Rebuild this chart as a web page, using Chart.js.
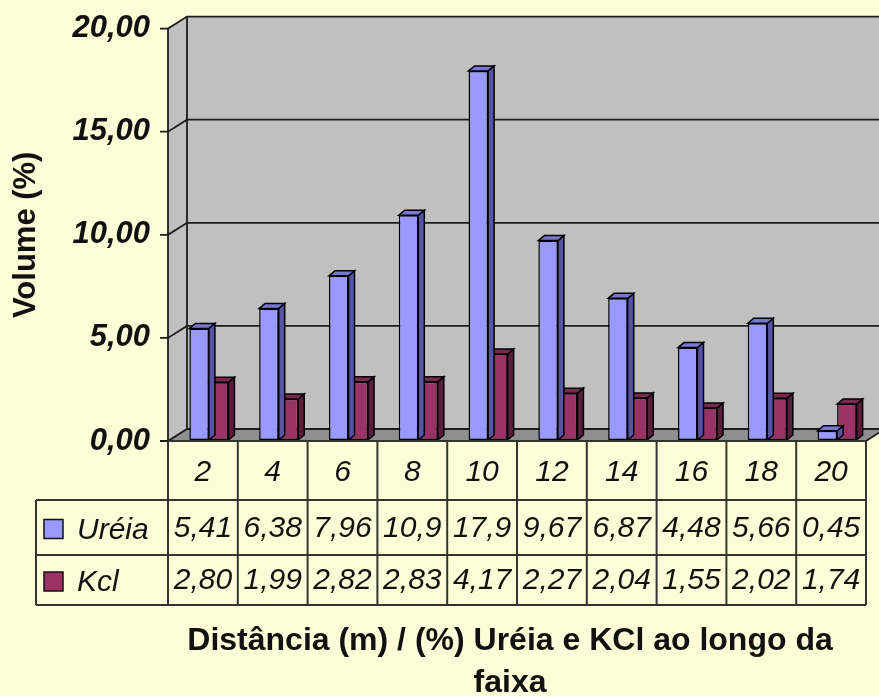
<!DOCTYPE html>
<html>
<head>
<meta charset="utf-8">
<script src="https://cdn.jsdelivr.net/npm/chart.js@4.4.1/dist/chart.umd.min.js"></script>
<style>
	body { margin: 0; background: #fffdd8; }
	#wrap { position: relative; width: 879px; height: 696px; }
</style>
</head>
<body>
<div id="wrap"><canvas id="chart"></canvas></div>
<script>
"use strict";
const distances = ["2", "4", "6", "8", "10", "12", "14", "16", "18", "20"];
const ureia = [5.41, 6.38, 7.96, 10.9, 17.9, 9.67, 6.87, 4.48, 5.66, 0.45];
const kcl = [2.8, 1.99, 2.82, 2.83, 4.17, 2.27, 2.04, 1.55, 2.02, 1.74];
const yTicks = [0, 5, 10, 15, 20];
const seriesNames = ["Uréia", "Kcl"];
const xTitle = ["Distância (m) / (%) Uréia e KCl ao longo da", "faixa"];

const FONT = "'Liberation Sans', Arial, sans-serif";
const front = ["#9999ff", "#993366"];
const side = ["#5555a8", "#5a1d3c"];
const topFace = ["#7777d4", "#7a2852"];

// depth of the walls and of the bars
const DX = 19, DY = -12;
const BX = 6, BY = -5;

const fmt = (v) => (v >= 10 ? v.toFixed(1) : v.toFixed(2)).replace(".", ",");

const line = (ctx, pts) => {
	ctx.beginPath();
	ctx.moveTo(pts[0][0], pts[0][1]);
	for (let i = 1; i < pts.length; i++) ctx.lineTo(pts[i][0], pts[i][1]);
};

const scene3d = {
	id: "scene3d",
	beforeDatasetsDraw(chart) {
		const ctx = chart.ctx;
		const { left, right, top, bottom } = chart.chartArea;
		const y = chart.scales.y;
		ctx.save();
		ctx.fillStyle = "#c0c0c0";
		ctx.fillRect(left + DX, top + DY, right - left, bottom - top);
		line(ctx, [[left, top], [left + DX, top + DY], [left + DX, bottom + DY], [left, bottom]]);
		ctx.closePath();
		ctx.fill();
		ctx.fillStyle = "#8f8f8f";
		line(ctx, [[left, bottom], [left + DX, bottom + DY], [right + DX, bottom + DY], [right, bottom]]);
		ctx.closePath();
		ctx.fill();

		ctx.strokeStyle = "#1c1c1c";
		ctx.lineWidth = 1.8;
		for (const v of yTicks) {
			const py = y.getPixelForValue(v);
			line(ctx, [[left - 8, py], [left, py], [left + DX, py + DY], [right + DX, py + DY]]);
			ctx.stroke();
		}
		line(ctx, [[left, top], [left, bottom]]);
		ctx.stroke();
		line(ctx, [[left + DX, top + DY], [left + DX, bottom + DY]]);
		ctx.stroke();
		line(ctx, [[right, bottom], [right + DX, bottom + DY]]);
		ctx.stroke();
		ctx.restore();

		ctx.save();
		ctx.translate(6, -1);
	},
	afterDatasetDraw(chart, args) {
		const ctx = chart.ctx;
		const i = args.index;
		ctx.save();
		ctx.strokeStyle = "#000";
		ctx.lineWidth = 1.5;
		for (const bar of args.meta.data) {
			const p = bar.getProps(["x", "y", "base", "width"], true);
			const l = p.x - p.width / 2, r = p.x + p.width / 2;
			ctx.fillStyle = side[i];
			line(ctx, [[r, p.y], [r + BX, p.y + BY], [r + BX, p.base + BY], [r, p.base]]);
			ctx.closePath();
			ctx.fill();
			ctx.stroke();
			ctx.fillStyle = topFace[i];
			line(ctx, [[l, p.y], [l + BX, p.y + BY], [r + BX, p.y + BY], [r, p.y]]);
			ctx.closePath();
			ctx.fill();
			ctx.stroke();
		}
		ctx.restore();
	},
	afterDatasetsDraw(chart) {
		chart.ctx.restore();
	},
	afterDraw(chart) {
		const ctx = chart.ctx;
		const { left, right, bottom } = chart.chartArea;
		const x = chart.scales.x;
		const colW = (right - left) / distances.length;
		const r1 = bottom + 59, r2 = r1 + 55, r3 = r2 + 50;
		const legLeft = 36;
		ctx.save();
		ctx.strokeStyle = "#333";
		ctx.lineWidth = 2;
		line(ctx, [[left, bottom], [right, bottom]]);
		ctx.stroke();
		for (const ry of [r1, r2, r3]) {
			line(ctx, [[legLeft, ry], [right, ry]]);
			ctx.stroke();
		}
		line(ctx, [[legLeft, r1], [legLeft, r3]]);
		ctx.stroke();
		for (let i = 0; i <= distances.length; i++) {
			const xx = left + i * colW;
			line(ctx, [[xx, bottom], [xx, r3]]);
			ctx.stroke();
		}

		ctx.fillStyle = "#111";
		ctx.font = `italic 30px ${FONT}`;
		ctx.textAlign = "center";
		ctx.textBaseline = "middle";
		const rowsY = [(r1 + r2) / 2 + 1, (r2 + r3) / 2 + 1];
		distances.forEach((d, i) => {
			const cx = x.getPixelForValue(i);
			ctx.fillText(d, cx, (bottom + r1) / 2 + 2);
			ctx.fillText(fmt(ureia[i]), cx, rowsY[0]);
			ctx.fillText(fmt(kcl[i]), cx, rowsY[1]);
		});

		ctx.textAlign = "left";
		seriesNames.forEach((name, i) => {
			ctx.fillStyle = front[i];
			ctx.fillRect(44, rowsY[i] - 9, 19, 19);
			ctx.strokeStyle = "#111";
			ctx.lineWidth = 1.5;
			ctx.strokeRect(44, rowsY[i] - 9, 19, 19);
			ctx.fillStyle = "#111";
			ctx.fillText(name, 77, rowsY[i] + 2);
		});

		ctx.font = `bold 32px ${FONT}`;
		ctx.textAlign = "center";
		ctx.fillText(xTitle[0], 510, 641);
		ctx.fillText(xTitle[1], 510, 683);
		ctx.restore();
	},
};

const ctx = document.getElementById("chart").getContext("2d");
const chart = new Chart(ctx, {
	type: "bar",
	data: {
		labels: distances,
		datasets: [
			{ label: seriesNames[0], data: ureia, backgroundColor: front[0] },
			{ label: seriesNames[1], data: kcl, backgroundColor: front[1] },
		].map((d) => ({
			...d,
			borderColor: "#000",
			borderWidth: 1.5,
			borderSkipped: false,
			categoryPercentage: 0.56,
			barPercentage: 1,
			clip: false,
		})),
	},
	options: {
		responsive: true,
		maintainAspectRatio: false,
		devicePixelRatio: 1,
		animation: false,
		layout: { padding: { top: 28, right: 13, bottom: 255, left: 0 } },
		plugins: { legend: { display: false }, tooltip: { enabled: false } },
		scales: {
			x: { display: false },
			y: {
				min: 0,
				max: 20,
				afterBuildTicks: (s) => {
					s.ticks = yTicks.map((v) => ({ value: v }));
				},
				afterFit: (s) => {
					s.width = 168;
				},
				grid: { display: false, drawTicks: true, tickLength: 8 },
				border: { display: false },
				ticks: {
					padding: 10,
					color: "#111",
					font: { family: FONT, size: 31, weight: "bold", style: "italic" },
					callback: (v) => Number(v).toFixed(2).replace(".", ","),
				},
				title: {
					display: true,
					text: "Volume (%)",
					color: "#111",
					font: { family: FONT, size: 31, weight: "bold" },
					padding: { top: 8, bottom: 0 },
				},
			},
		},
	},
	plugins: [scene3d],
});
</script>
</body>
</html>
